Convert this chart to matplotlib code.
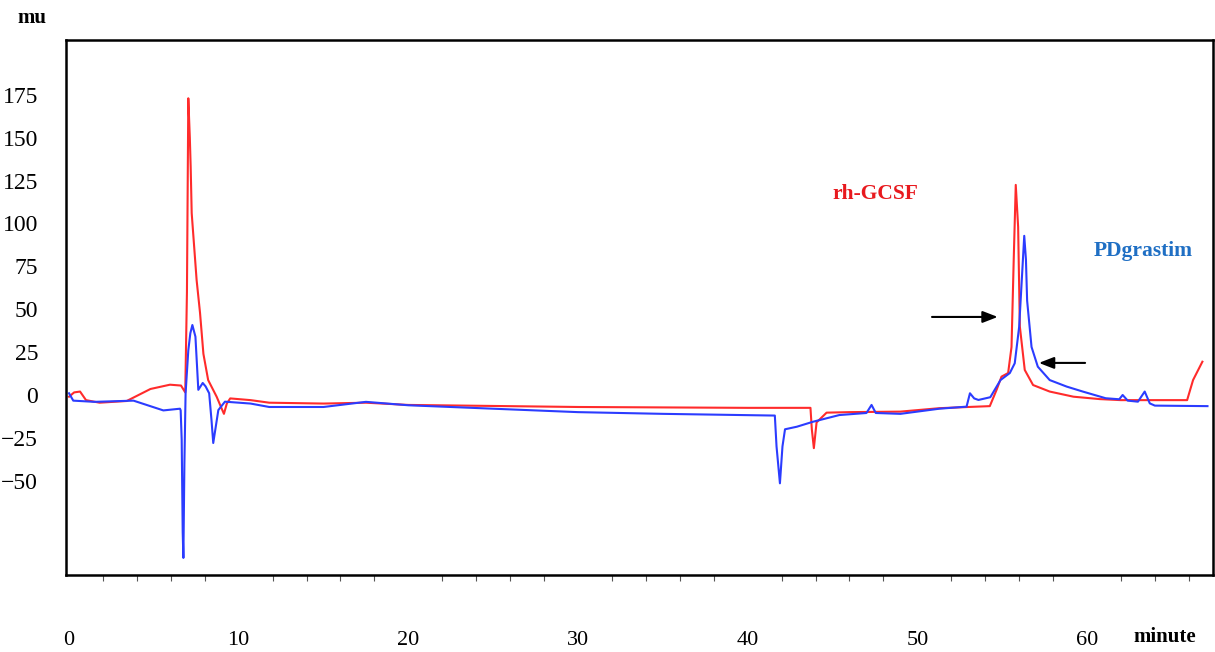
import matplotlib
matplotlib.use("Agg")
from matplotlib import pyplot as plt
import numpy as np

plt.rcParams['font.family'] = ['Liberation Serif', 'DejaVu Serif']

# rh-GCSF trace (minute, mu)
red_x = [0, 0.3, 0.65, 1.0, 1.8, 3.4, 4.8, 5.95, 6.6, 6.85, 6.95, 7.03, 7.12, 7.17, 7.23,
         7.52, 7.72, 7.92, 8.2, 8.7, 9.0, 9.13, 9.3, 9.5, 10.7, 11.8, 15, 17.5, 20, 30,
         40, 43.7, 43.78, 43.9, 44.06, 44.65, 46, 49, 51.3, 53, 54.27, 54.67, 54.96,
         55.35, 55.55, 55.68, 55.8, 55.94, 56.04, 56.33, 56.82, 57.8, 59.2, 60.75, 62,
         65.9, 66.25, 66.8]
red_y = [-1, 1.5, 2, -3, -4.5, -3.5, 3.5, 6, 5.5, 1.5, 60, 173, 150, 133, 106,
         67, 48, 24, 8.7, -1, -8, -11, -5, -2, -3, -4.5, -5, -4.5, -5.8, -7,
         -7.5, -7.5, -20, -31, -16, -10.3, -10, -9.7, -7.7, -7, -6.5, 3, 10.7,
         12.8, 28, 79, 122.5, 98, 40, 14.6, 5.8, 2, -1, -2.4, -3,
         -3, 8.7, 19.4]

# PDgrastim trace (minute, mu)
blue_x = [0, 0.25, 1.5, 3.8, 5.56, 6.54, 6.58, 6.64, 6.7, 6.74, 6.8, 6.87, 7.03, 7.15,
          7.27, 7.45, 7.62, 7.88, 8.05, 8.26, 8.4, 8.5, 8.8, 9.19, 10.7, 11.8, 15, 17.5,
          20, 25, 30, 35, 41.6, 41.7, 41.9, 42.05, 42.2, 42.9, 43.85, 45.4, 47.0, 47.3,
          47.55, 49, 51.3, 52.9, 53.1, 53.35, 53.6, 54.3, 54.9, 55.45, 55.74, 56.0,
          56.2, 56.3, 56.4, 56.47, 56.73, 57.1, 57.8, 58.8, 59.75, 61.1, 61.9, 62.1,
          62.4, 63.0, 63.4, 63.7, 64.0, 67.1]
blue_y = [1, -3.3, -4, -3.3, -9, -8, -9, -26, -80, -95, -40, 1, 26, 36,
          40.8, 34, 3, 7, 5, 1, -15, -28, -8.8, -3.9, -5, -7, -7, -4,
          -6, -8, -10, -11, -12, -30, -51.5, -30, -20, -18.5, -15.6, -11.7, -10.5, -5.8,
          -10.5, -11, -8, -6.8, 1, -2, -2.9, -1.3, 8.7, 12.8, 18.5, 39.7,
          75, 92.8, 79, 55, 28, 16.5, 8.7, 4.9, 2, -1.9, -2.5, 0,
          -3.3, -3.9, 2, -4.9, -6.2, -6.5]

yticks = [-50, -25, 0, 25, 50, 75, 100, 125, 150, 175]
xticks = [0, 10, 20, 30, 40, 50, 60]

fig = plt.figure(figsize=(12.15, 6.52), dpi=100)
ax = fig.add_axes([0.0543, 0.118, 0.9437, 0.8207])

ax.plot(red_x, red_y, color='#ff2b2b', lw=1.5)
ax.plot(blue_x, blue_y, color='#2b3cff', lw=1.5)

ax.set_xlim(-0.18, 67.4)
ax.set_ylim(-105, 207)

ax.set_yticks(yticks)
ax.set_yticklabels([str(v).replace('-', '\u2212') for v in yticks])
ax.tick_params(axis='y', length=0, pad=20, labelsize=17)
ax.set_xticks(xticks)
ax.set_xticks(np.arange(2, 67, 2), minor=True)
ax.tick_params(axis='x', which='major', length=0, pad=40, labelsize=16)
ax.tick_params(axis='x', which='minor', length=4, direction='out', width=0.8, color='#555555')

for s in ax.spines.values():
    s.set_linewidth(1.8)

fig.text(17 / 1215, 1 - 18 / 652, 'mu', fontsize=15, fontweight='bold', va='center', ha='left')
fig.text(1133 / 1215, 1 - 637 / 652, 'minute', fontsize=15, fontweight='bold', va='center', ha='left')

ax.text(47.5, 117, 'rh-GCSF', color='#e8191e', fontsize=15.5, fontweight='bold', ha='center', va='center')
ax.text(60.4, 84, 'PDgrastim', color='#1f6fc4', fontsize=15.5, fontweight='bold', ha='left', va='center')

ax.annotate('', xy=(54.9, 45.5), xytext=(50.7, 45.5),
            arrowprops=dict(arrowstyle='-|>,head_length=0.9,head_width=0.35', color='black', lw=1.5))
ax.annotate('', xy=(57.0, 18.7), xytext=(60.05, 18.7),
            arrowprops=dict(arrowstyle='-|>,head_length=0.9,head_width=0.35', color='black', lw=1.5))

fig.savefig('out.png', dpi=100)
